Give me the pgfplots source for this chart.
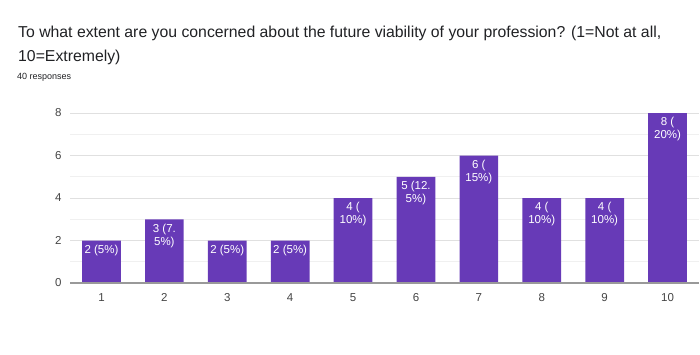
\documentclass[border=0pt]{standalone}
\usepackage{pgfplots}
\pgfplotsset{compat=1.18}
\usepackage{fontspec}
\setmainfont{Liberation Sans}
\definecolor{barc}{HTML}{673AB7}
\definecolor{titlec}{HTML}{202124}
\definecolor{tickc}{HTML}{444444}
\begin{document}
\begin{tikzpicture}
\useasboundingbox (0,0) rectangle (700bp,355bp);
\node[anchor=base west, inner sep=0, text=titlec, font=\fontsize{15.8bp}{18bp}\selectfont] at (18bp,317bp) {To what extent are you concerned about the future viability of your profession? (1=Not at all,};
\node[anchor=base west, inner sep=0, text=titlec, font=\fontsize{15.8bp}{18bp}\selectfont] at (18bp,293bp) {10=Extremely)};
\node[anchor=base west, inner sep=0, text=titlec, font=\fontsize{9bp}{11bp}\selectfont] at (17bp,275bp) {40 responses};
\begin{axis}[
  at={(70bp,72bp)}, anchor=south west,
  scale only axis, width=629bp, height=170bp,
  xmin=0.5, xmax=10.5, ymin=0, ymax=8,
  axis line style={draw=none},
  xtick={1,...,10}, ytick={0,2,4,6,8},
  minor ytick={1,3,5,7},
  ymajorgrids, yminorgrids,
  major grid style={draw=black!12, line width=0.8bp},
  minor grid style={draw=black!6, line width=0.8bp},
  tick style={draw=none},
  ticklabel style={text=tickc, font=\fontsize{11.5bp}{13bp}\selectfont},
  /pgf/number format/assume math mode=true,
  xticklabel style={yshift=-3bp},
  yticklabel style={xshift=-5bp},
  ybar, bar width=38.7bp, bar shift=0pt,
  point meta=explicit symbolic,
  nodes near coords,
  every node near coord/.style={anchor=north, yshift=-1bp, text=white, align=center, font=\fontsize{11.5bp}{13bp}\selectfont},
  clip=false,
]
\addplot[fill=barc, draw=none] coordinates {
 (1,2) [2 (5\%)]
 (2,3) [{3 (7.\\5\%)}]
 (3,2) [2 (5\%)]
 (4,2) [2 (5\%)]
 (5,4) [{4 (\\10\%)}]
 (6,5) [{5 (12.\\5\%)}]
 (7,6) [{6 (\\15\%)}]
 (8,4) [{4 (\\10\%)}]
 (9,4) [{4 (\\10\%)}]
 (10,8) [{8 (\\20\%)}]
};
\draw[draw=black!40, line width=1.5bp] (axis cs:0.5,0) -- (axis cs:10.5,0);
\end{axis}
\end{tikzpicture}
\end{document}
